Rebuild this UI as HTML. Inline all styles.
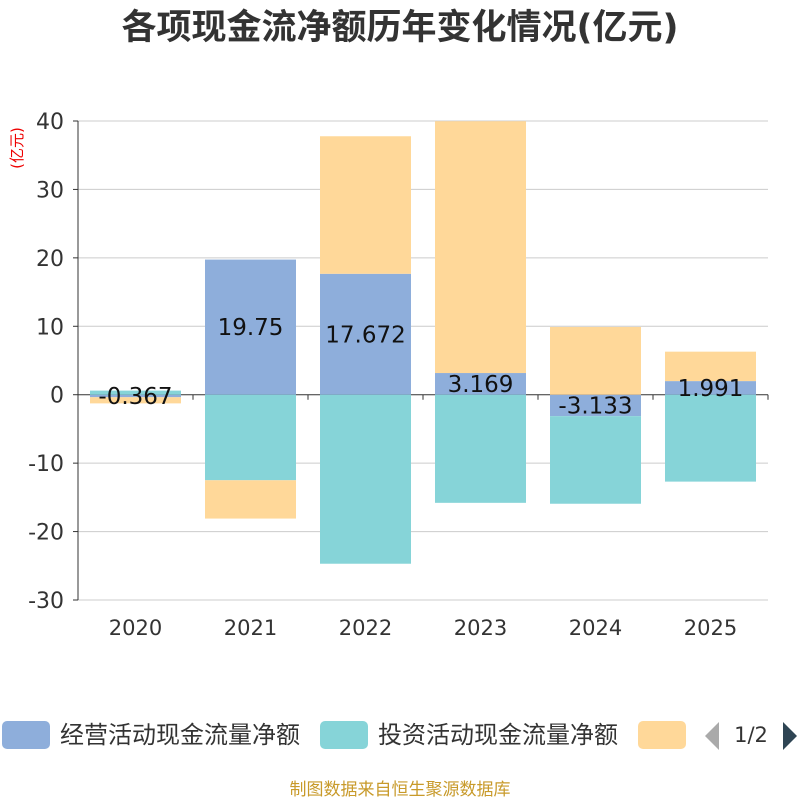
<!DOCTYPE html>
<html><head><meta charset="utf-8"><style>
html,body{margin:0;padding:0;background:#fff;}
svg text{font-family:"DejaVu Sans","Noto Sans CJK SC",sans-serif;}
</style></head><body>
<svg id="chart" width="800" height="800" viewBox="0 0 800 800">
<text x="400" y="39" text-anchor="middle" font-size="35" font-weight="bold" fill="#333">各项现金流净额历年变化情况(亿元)</text>
<text transform="translate(22,148) rotate(-90)" text-anchor="middle" font-size="15" fill="#e00">(亿元)</text>
<g id="grid"></g><g id="bars"></g><g id="labels"></g><g id="axes"></g>
<g>
<rect x="2" y="721" width="48" height="28" rx="5" fill="#8eaedb"/>
<text x="60" y="743" font-size="24" fill="#333">经营活动现金流量净额</text>
<rect x="320" y="721" width="48" height="28" rx="5" fill="#86d4d8"/>
<text x="378" y="743" font-size="24" fill="#333">投资活动现金流量净额</text>
<rect x="638" y="721" width="48" height="28" rx="5" fill="#ffd899"/>
<polygon points="719,722 705,736 719,750" fill="#aaa"/>
<text x="751" y="742" text-anchor="middle" font-size="21" fill="#333">1/2</text>
<polygon points="783,722 797,736 783,750" fill="#2f4554"/>
</g>
<text x="400" y="795" text-anchor="middle" font-size="17" fill="#c89a2a">制图数据来自恒生聚源数据库</text>
</svg>
<script>
const categories=["2020","2021","2022","2023","2024","2025"];
const operating=[-0.367,19.75,17.672,3.169,-3.133,1.991];
const investing=[0.6,-12.5,-24.7,-15.8,-12.8,-12.7];
const financing=[-0.9,-5.6,20.1,36.8,9.9,4.3];
const yTicks=[40,30,20,10,0,-10,-20,-30];
const opLabels=["-0.367","19.75","17.672","3.169","-3.133","1.991"];
const NS="http://www.w3.org/2000/svg";
const x0=78,x1=768,yTop=121,yBot=600,yMax=40,yMin=-30;
const band=(x1-x0)/categories.length,barW=91;
function y(v){return yTop+(yMax-v)/(yMax-yMin)*(yBot-yTop);}
function xc(i){return x0+band*(i+0.5);}
function mk(tag,attrs,parent){const e=document.createElementNS(NS,tag);for(const k in attrs)e.setAttribute(k,attrs[k]);document.getElementById(parent).appendChild(e);return e;}
yTicks.forEach(t=>{
 const l=mk('line',{x1:x0,x2:x1,y1:y(t),y2:y(t),stroke:t===0?'#333':'#ccc','stroke-width':1},'grid');
 
 
 const tx=mk('text',{x:x0-14,y:y(t)+8,'text-anchor':'end','font-size':22,fill:'#333'},'axes');
 tx.textContent=t;
 
 
 mk('line',{x1:x0-5,x2:x0,y1:y(t),y2:y(t),stroke:'#333'},'axes');
});
mk('line',{x1:x0,x2:x0,y1:yTop,y2:yBot,stroke:'#333'},'axes');
categories.forEach((c,i)=>{
 const tx=mk('text',{x:xc(i),y:635,'text-anchor':'middle','font-size':21,fill:'#333'},'axes');
 tx.textContent=c;
 
 
 mk('line',{x1:x0+band*i,x2:x0+band*i,y1:y(0),y2:y(0)+5,stroke:'#333'},'axes');
});
mk('line',{x1:x1,x2:x1,y1:y(0),y2:y(0)+5,stroke:'#333'},'axes');
const series=[[operating,'#8eaedb','bar-operating'],[investing,'#86d4d8','bar-investing'],[financing,'#ffd899','bar-financing']];
categories.forEach((c,i)=>{
 let pos=0,neg=0;
 series.forEach(([arr,col,name])=>{
  const v=arr[i];let a,b;
  if(v>=0){a=pos;b=pos+v;pos=b;}else{a=neg;b=neg+v;neg=b;}
  const r=mk('rect',{x:xc(i)-barW/2,y:Math.min(y(a),y(b)),width:barW,height:Math.abs(y(a)-y(b)),fill:col},'bars');
  
  
 });
 const v=operating[i];
 const t=mk('text',{x:xc(i),y:(y(0)+y(v))/2+8,'text-anchor':'middle','font-size':23,fill:'#111'},'labels');
 t.textContent=opLabels[i];
 
 
});
</script>
</body></html>
